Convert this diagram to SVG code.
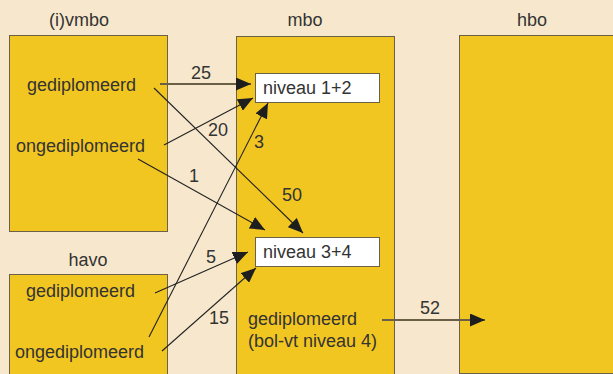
<svg xmlns="http://www.w3.org/2000/svg" width="613" height="374" viewBox="0 0 613 374">
<defs>
<style>
.bg{fill:#f7e8cd}
.box{fill:#f2c620;stroke:#6b6048;stroke-width:1}
.wbox{fill:#ffffff;stroke:#6b6048;stroke-width:1}
text{font-family:"Liberation Sans",Arial,sans-serif;font-size:18px;fill:#333333}
.c{text-anchor:middle}
.ln{stroke:#222;stroke-width:1.1;fill:none}
.hl{stroke:#6a6048;stroke-width:2;fill:none}
</style>
<marker id="ah" viewBox="0 0 15 13" refX="15" refY="6.5" markerWidth="15" markerHeight="13" markerUnits="userSpaceOnUse" orient="auto">
<path d="M0,0 L15,6.5 L0,13 Z" fill="#1e1e1e"/>
</marker>
</defs>
<rect class="bg" x="0" y="0" width="613" height="374"/>
<text class="c" x="79" y="26">(i)vmbo</text>
<text class="c" x="305" y="26">mbo</text>
<text class="c" x="532" y="26">hbo</text>
<text class="c" x="88" y="266">havo</text>
<g id="vmbo">
<rect class="box" x="9.5" y="35.5" width="158" height="196"/>
<text x="27" y="91">gediplomeerd</text>
<text x="16" y="152">ongediplomeerd</text>
</g>
<g id="havo">
<rect class="box" x="9.5" y="274.5" width="158" height="110"/>
<text x="26" y="297">gediplomeerd</text>
<text x="15" y="358">ongediplomeerd</text>
</g>
<g id="mbo">
<rect class="box" x="236.5" y="36.5" width="158" height="350"/>
<text x="248" y="325">gediplomeerd</text>
<text x="248" y="347">(bol-vt niveau 4)</text>
</g>
<g id="niveau12">
<rect class="wbox" x="255.5" y="73.5" width="124" height="29"/>
<text x="263" y="94">niveau 1+2</text>
</g>
<g id="niveau34">
<rect class="wbox" x="255.5" y="237.5" width="124" height="29"/>
<text x="263" y="258">niveau 3+4</text>
</g>
<g id="hbo">
<rect class="box" x="459.5" y="35.5" width="160" height="338"/>
</g>
<g id="connectors">
<line class="hl" x1="160" y1="84" x2="251" y2="84" marker-end="url(#ah)"/>
<line class="ln" x1="164" y1="145" x2="253" y2="98" marker-end="url(#ah)"/>
<line class="ln" x1="138" y1="159" x2="265" y2="230" marker-end="url(#ah)"/>
<line class="ln" x1="154" y1="88" x2="303" y2="233" marker-end="url(#ah)"/>
<line class="ln" x1="155" y1="293" x2="248" y2="252" marker-end="url(#ah)"/>
<line class="ln" x1="149" y1="337" x2="268" y2="103" marker-end="url(#ah)"/>
<line class="ln" x1="162" y1="351" x2="256" y2="268" marker-end="url(#ah)"/>
<line class="hl" x1="382" y1="320" x2="485" y2="320" marker-end="url(#ah)"/>
<text class="c" x="201" y="79">25</text>
<text class="c" x="218" y="136">20</text>
<text class="c" x="259" y="148">3</text>
<text class="c" x="194" y="182">1</text>
<text class="c" x="292" y="201">50</text>
<text class="c" x="211" y="263">5</text>
<text class="c" x="219" y="324">15</text>
<text class="c" x="430" y="314">52</text>
</g>
</svg>
